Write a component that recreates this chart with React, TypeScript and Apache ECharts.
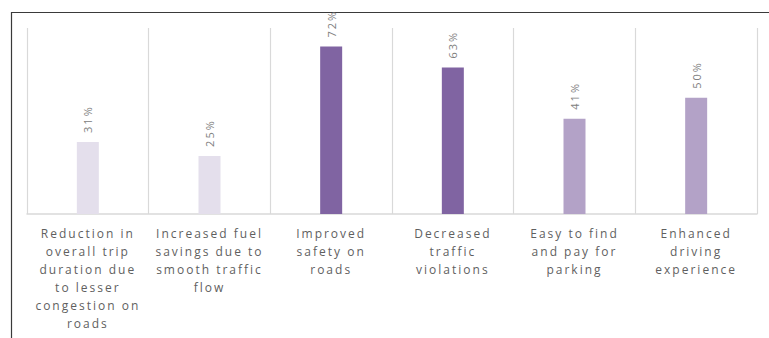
import React, { useEffect, useRef } from "react";
import * as echarts from "echarts";

const categories: string[] = [
  "Reduction in\noverall trip\nduration due\nto lesser\ncongestion on\nroads",
  "Increased fuel\nsavings due to\nsmooth traffic\nflow",
  "Improved\nsafety on\nroads",
  "Decreased\ntraffic\nviolations",
  "Easy to find\nand pay for\nparking",
  "Enhanced\ndriving\nexperience",
];
const values: number[] = [31, 25, 72, 63, 41, 50];
const barColors: string[] = ["#e4dfec", "#e4dfec", "#8064a2", "#8064a2", "#b3a2c7", "#b3a2c7"];

export default function App() {
  const ref = useRef<HTMLDivElement>(null);
  useEffect(() => {
    if (!ref.current) return;
    const chart = echarts.init(ref.current, undefined, { renderer: "svg" });
    chart.setOption({
      animation: false,
      backgroundColor: "#ffffff",
      textStyle: { fontFamily: "Open Sans" },
      graphic: [
        {
          type: "rect",
          shape: { x: 11.5, y: 12.5, width: 900, height: 500 },
          style: { fill: "none", stroke: "#3a3a3a", lineWidth: 1.2 },
          silent: true,
        },
      ],
      grid: { left: 27, right: 12, top: 28, bottom: 124, containLabel: false },
      xAxis: {
        type: "category",
        data: categories,
        boundaryGap: true,
        axisLine: { show: true, lineStyle: { color: "#d9d9d9", width: 1.5 } },
        axisTick: { show: false },
        splitLine: { show: true, lineStyle: { color: "#d9d9d9", width: 1.2 } },
        axisLabel: {
          interval: 0,
          fontSize: 12,
          color: "#5f5f5f",
          lineHeight: 18,
          margin: 10,
          fontFamily: "Open Sans",
        },
      },
      yAxis: {
        type: "value",
        min: 0,
        max: 80,
        show: false,
        splitLine: { show: false },
      },
      series: [
        {
          type: "bar",
          data: values.map((v, i) => ({ value: v, itemStyle: { color: barColors[i] } })),
          barWidth: 22,
          label: {
            show: true,
            position: "top",
            rotate: 90,
            align: "left",
            verticalAlign: "middle",
            distance: 9,
            fontSize: 11,
            color: "#808080",
            formatter: (p: any) => p.value + "%",
          },
        },
      ],
    });
    return () => chart.dispose();
  }, []);
  return (
    <div
      ref={ref}
      style={{
        position: "fixed",
        left: 0,
        top: 0,
        width: 769,
        height: 338,
        letterSpacing: "2px",
      }}
    />
  );
}
